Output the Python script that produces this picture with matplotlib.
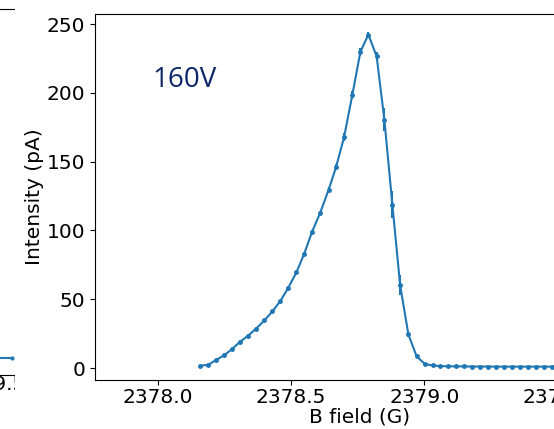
import matplotlib
matplotlib.use("Agg")
import matplotlib.pyplot as plt
from matplotlib.patches import Rectangle

# ---- data ----
b_field = [2378.159, 2378.190, 2378.219, 2378.250, 2378.279, 2378.309, 2378.339,
           2378.369, 2378.400, 2378.430, 2378.460, 2378.489, 2378.520, 2378.549,
           2378.579, 2378.609, 2378.641, 2378.669, 2378.699, 2378.730, 2378.760,
           2378.790, 2378.821, 2378.850, 2378.880, 2378.909, 2378.940, 2378.971,
           2379.002, 2379.031, 2379.060, 2379.090, 2379.118, 2379.148, 2379.177,
           2379.208, 2379.237, 2379.267, 2379.298, 2379.328, 2379.358, 2379.390,
           2379.418, 2379.448, 2379.478, 2379.508, 2379.538]
intensity = [1.6, 2.4, 5.8, 9.4, 13.8, 19.1, 23.5,
             28.6, 34.6, 41.1, 48.7, 58.1, 69.5, 82.8,
             99.1, 112.6, 129.6, 146.1, 167.9, 198.6, 229.7,
             242.4, 226.5, 180.5, 118.7, 60.3, 24.5, 8.4,
             2.9, 1.9, 1.4, 1.3, 1.2, 1.2, 1.1,
             1.1, 1.1, 1.0, 1.0, 1.0, 1.0, 1.0,
             1.0, 1.0, 1.0, 1.0, 1.0]
intensity_err = [0.5, 0.5, 0.6, 0.6, 0.7, 0.7, 0.8,
                 0.8, 0.9, 1.0, 1.0, 1.2, 1.3, 1.5,
                 1.5, 1.6, 1.8, 2.0, 3.0, 3.0, 2.7,
                 1.5, 3.4, 8.5, 10.0, 7.0, 2.0, 0.8,
                 0.4, 0.3, 0.2, 0.2, 0.2, 0.2, 0.2,
                 0.2, 0.2, 0.2, 0.2, 0.2, 0.2, 0.2,
                 0.2, 0.2, 0.2, 0.2, 0.2]
x_ticks = [2378.0, 2378.5, 2379.0, 2379.5]
y_ticks = [0, 50, 100, 150, 200, 250]
label_text = "160V"

# neighbouring (cropped) panel
left_x = [0.0, 0.5, 1.0]
left_y = [0.046, 0.046, 0.046]

W, H = 554, 429
fig = plt.figure(figsize=(W / 100, H / 100), dpi=100)

# partial neighbour panel on the far left
axl = fig.add_axes([-0.5, (H - 375) / H, 0.5 + 14 / W, 366 / H])
axl.set_zorder(-1)
axl.plot(left_x, left_y, '.-', color='#1f77b4', ms=4, lw=1.5)
axl.set_xlim(-8, 1.05)
axl.set_ylim(0, 1)
axl.set_xticks([])
axl.set_yticks([])
axl.spines['right'].set_visible(False)
fig.text(26 / W, 1 - 385 / H, "2379.5", ha='right', va='center', fontsize=14.5, zorder=-0.8)
fig.add_artist(Rectangle((14.5 / W, 0), 1, 1, transform=fig.transFigure,
                         facecolor='white', edgecolor='none', zorder=-0.5))

# main panel (extends beyond the right edge, as in the cropped reference)
px_per_G = 266.7
xmin = 2377.765
xmax = 2379.75
ax = fig.add_axes([95 / W, (H - 380) / H, (xmax - xmin) * px_per_G / W, 366 / H])
ax.errorbar(b_field, intensity, yerr=intensity_err, fmt='.-', color='#1f77b4',
            ms=5, lw=1.5, elinewidth=1.5, capsize=0)
ax.set_xlim(xmin, xmax)
ax.set_ylim(-8.7, 257.3)
ax.set_xticks(x_ticks)
ax.set_xticklabels([f"{v:.1f}" for v in x_ticks])
ax.set_yticks(y_ticks)
ax.tick_params(labelsize=14.5)
ax.tick_params(axis='x', pad=2.5)
ax.set_xlabel("B field (G)", fontsize=14.5, labelpad=0)
ax.set_ylabel("Intensity (pA)", fontsize=14.5, labelpad=2)
ax.text(152 / W, 1 - 80 / H, label_text, transform=fig.transFigure,
        fontsize=20, color='#0c2768', family=['Open Sans', 'DejaVu Sans'],
        ha='left', va='center')

fig.savefig("out.png", dpi=100)
